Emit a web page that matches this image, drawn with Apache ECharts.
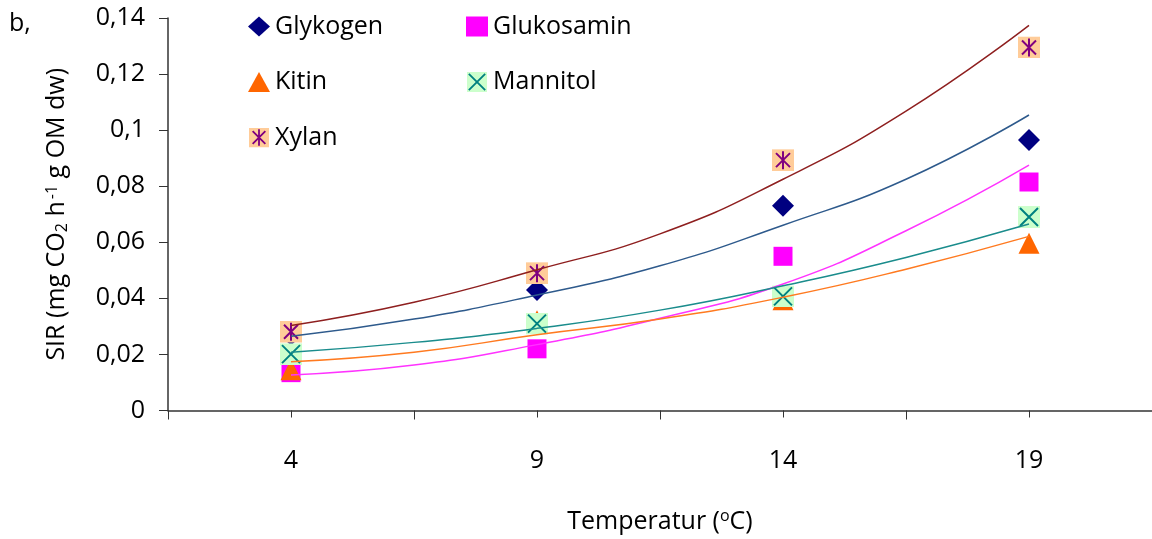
<!DOCTYPE html>
<html>
<head>
<meta charset="utf-8">
<script src="https://cdn.jsdelivr.net/npm/echarts@6/dist/echarts.min.js"></script>
<style>
html,body{margin:0;padding:0;background:#fff;}
#chart{width:1152px;height:539px;}
</style>
</head>
<body>
<div id="chart"></div>
<script>
// ---- data ----
const categories = ['4', '9', '14', '19'];
const temps = [4, 9, 14, 19];
const glykogen   = [0.027, 0.043, 0.073, 0.0965];
const glukosamin = [0.0135, 0.022, 0.055, 0.0815];
const kitin      = [0.0145, 0.032, 0.0395, 0.0597];
const mannitol   = [0.0201, 0.031, 0.0407, 0.069];
const xylan      = [0.0281, 0.049, 0.0893, 0.1295];

// trendline readings (exponential trendlines in the source)
const trendX          = [4, 6.5, 9, 11.5, 14, 16.5, 19];
const glykogenTrend   = [0.0265, 0.0326, 0.0412, 0.0516, 0.0661, 0.0825, 0.1054];
const glukosaminTrend = [0.0127, 0.0162, 0.0235, 0.0329, 0.0451, 0.0641, 0.0875];
const kitinTrend      = [0.0174, 0.0208, 0.0270, 0.0326, 0.0404, 0.0504, 0.0621];
const mannitolTrend   = [0.0208, 0.0243, 0.0293, 0.0358, 0.0445, 0.0546, 0.0665];
const xylanTrend      = [0.0303, 0.0386, 0.0502, 0.0630, 0.0825, 0.1068, 0.1374];

const yTickLabels = ['0', '0,02', '0,04', '0,06', '0,08', '0,1', '0,12', '0,14'];

// ---- helpers ----
const FONT = 'Open Sans';
function svgIcon(bg, stroke, d) {
  const s = "<svg xmlns='http://www.w3.org/2000/svg' width='22' height='22'>" +
    "<rect width='22' height='22' fill='" + bg + "'/>" +
    "<path d='" + d + "' stroke='" + stroke + "' stroke-width='2' fill='none'/></svg>";
  return 'image://data:image/svg+xml;charset=utf-8,' + encodeURIComponent(s);
}
const mannitolIcon = svgIcon('#CCFFCC', '#008080', 'M2 2L20 20M20 2L2 20');
const xylanIcon = svgIcon('#FFCC99', '#800080', 'M4 4L18 18M18 4L4 18M11 2L11 20');

function pts(xs, ys) { return xs.map((x, i) => [x, ys[i]]); }

const markerDefs = [
  { name: 'Glykogen',   data: glykogen,   symbol: 'diamond',  size: 22, color: '#000080' },
  { name: 'Glukosamin', data: glukosamin, symbol: 'rect',     size: 19, color: '#FF00FF' },
  { name: 'Kitin',      data: kitin,      symbol: 'triangle', size: 21, color: '#FF6600' },
  { name: 'Mannitol',   data: mannitol,   symbol: mannitolIcon, size: 22, color: '#008080' },
  { name: 'Xylan',      data: xylan,      symbol: xylanIcon,  size: 22, color: '#800080' }
];
const trendDefs = [
  { data: glykogenTrend,   color: '#2E5A8C' },
  { data: glukosaminTrend, color: '#FF33FF' },
  { data: kitinTrend,      color: '#FF7A20' },
  { data: mannitolTrend,   color: '#1A8C8C' },
  { data: xylanTrend,      color: '#8E1F1F' }
];

const series = [];
markerDefs.forEach((m, i) => {
  series.push({
    name: m.name,
    type: 'scatter',
    xAxisIndex: 2,
    symbol: m.symbol,
    symbolSize: m.size,
    itemStyle: { color: m.color, opacity: 1 },
    z: 2 + i,
    data: pts(temps, m.data)
  });
});
trendDefs.forEach((t, i) => {
  series.push({
    name: 'trend' + i,
    type: 'line',
    xAxisIndex: 2,
    smooth: true,
    symbol: 'none',
    lineStyle: { color: t.color, width: 1.5 },
    z: 10,
    silent: true,
    data: pts(trendX, t.data)
  });
});

const chart = echarts.init(document.getElementById('chart'));
const axisColor = '#333';
chart.setOption({
  animation: false,
  backgroundColor: '#fff',
  textStyle: { fontFamily: FONT },
  grid: { left: 168, right: 0, top: 18, bottom: 127 },
  legend: [
    {
      orient: 'vertical', left: 243, top: 9,
      itemWidth: 22, itemHeight: 20, itemGap: 30.5,
      textStyle: { fontFamily: FONT, fontSize: 25, color: '#000', lineHeight: 25 },
      data: [
        { name: 'Glykogen', icon: 'diamond', itemStyle: { color: '#000080' } },
        { name: 'Kitin', icon: 'triangle', itemStyle: { color: '#FF6600' } },
        { name: 'Xylan', icon: xylanIcon }
      ]
    },
    {
      orient: 'vertical', left: 461, top: 9,
      itemWidth: 22, itemHeight: 20, itemGap: 30.5,
      textStyle: { fontFamily: FONT, fontSize: 25, color: '#000', lineHeight: 25 },
      data: [
        { name: 'Glukosamin', icon: 'rect', itemStyle: { color: '#FF00FF' } },
        { name: 'Mannitol', icon: mannitolIcon }
      ]
    }
  ],
  xAxis: [
    {
      type: 'category',
      data: categories,
      boundaryGap: true,
      position: 'bottom',
      axisLine: { show: true, lineStyle: { color: axisColor, width: 1.5 } },
      axisTick: { show: true, interval: 0, length: 9, lineStyle: { color: axisColor } },
      axisLabel: { show: true, margin: 38, fontFamily: FONT, fontSize: 25, color: '#000' },
      splitLine: { show: false },
      name: 'Temperatur ({sup|o}C)',
      nameLocation: 'middle',
      nameGap: 98,
      nameTextStyle: {
        fontFamily: FONT, fontSize: 25, color: '#000',
        rich: { sup: { fontFamily: FONT, fontSize: 16, verticalAlign: 'top', padding: [0, 0, 10, 0] } }
      }
    },
    {
      type: 'category',
      data: categories,
      boundaryGap: true,
      position: 'bottom',
      axisLine: { show: false },
      axisTick: { show: true, alignWithLabel: true, interval: 0, length: 7, lineStyle: { color: axisColor } },
      axisLabel: { show: false },
      splitLine: { show: false }
    },
    {
      type: 'value',
      show: false,
      min: 1.5,
      max: 21.5
    }
  ],
  yAxis: {
    type: 'value',
    min: 0,
    max: 0.14,
    interval: 0.02,
    axisLine: { show: true, lineStyle: { color: axisColor, width: 1.5 } },
    axisTick: { show: true, length: 9, lineStyle: { color: axisColor } },
    splitLine: { show: false },
    axisLabel: {
      margin: 23, fontFamily: FONT, fontSize: 25, color: '#000',
      formatter: v => yTickLabels[Math.round(v / 0.02)]
    },
    name: 'SIR (mg CO{sub|2} h{sup|-1} g OM dw)',
    nameLocation: 'middle',
    nameRotate: 90,
    nameGap: 98,
    nameTextStyle: {
      fontFamily: FONT, fontSize: 25, color: '#000',
      rich: {
        sub: { fontFamily: FONT, fontSize: 16, verticalAlign: 'bottom', padding: [8, 0, 0, 0] },
        sup: { fontFamily: FONT, fontSize: 16, verticalAlign: 'top', padding: [0, 0, 10, 2] }
      }
    }
  },
  graphic: [
    { type: 'text', left: 9, top: 11, style: { text: 'b,', fontFamily: FONT, fontSize: 25, fill: '#000' } }
  ],
  series: series
});
</script>
</body>
</html>
